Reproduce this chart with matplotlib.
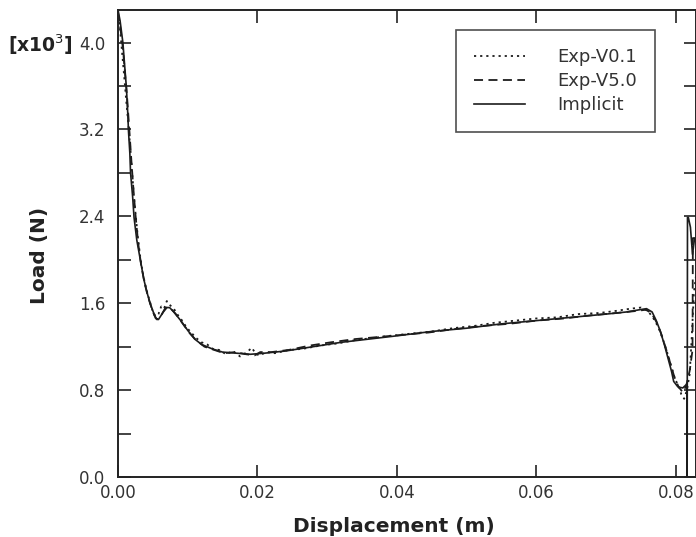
import matplotlib
matplotlib.use("Agg")
import matplotlib.pyplot as plt
from matplotlib import ticker

plt.rcParams["font.family"] = ["DejaVu Sans"]

# Implicit (solid)
x_imp = [0.0000, 0.0003, 0.0007, 0.0010, 0.0012, 0.0014, 0.0015, 0.0017, 0.0018, 0.0021,
         0.0023, 0.0027, 0.0032, 0.0037, 0.0042, 0.0046, 0.0050, 0.0054, 0.0058, 0.0063,
         0.0068, 0.0074, 0.0080, 0.0090, 0.0100, 0.0110, 0.0120, 0.0135, 0.0150, 0.0170,
         0.0190, 0.0210, 0.0240, 0.0280, 0.0320, 0.0360, 0.0400, 0.0450, 0.0500, 0.0550,
         0.0600, 0.0650, 0.0700, 0.0730, 0.0748, 0.0758, 0.0766, 0.0772, 0.0778, 0.0784,
         0.0789, 0.0794, 0.0797, 0.0803, 0.0810, 0.0815, 0.08160, 0.08163, 0.08168, 0.0818,
         0.0821, 0.0824, 0.0827, 0.0830]
y_imp = [4.30, 4.20, 4.00, 3.75, 3.59, 3.35, 3.19, 2.98, 2.80, 2.58,
         2.39, 2.18, 2.00, 1.82, 1.69, 1.60, 1.53, 1.46, 1.45, 1.50,
         1.56, 1.56, 1.52, 1.44, 1.35, 1.27, 1.22, 1.18, 1.15, 1.14,
         1.13, 1.14, 1.16, 1.20, 1.24, 1.27, 1.30, 1.34, 1.37, 1.41,
         1.44, 1.47, 1.50, 1.52, 1.54, 1.55, 1.52, 1.44, 1.34, 1.21,
         1.09, 0.97, 0.88, 0.83, 0.82, 0.85, 0.86, 0.00, 2.39, 2.39,
         2.30, 2.05, 2.20, 2.15]

# Exp-V5.0 (dashed)
x_v50 = [0.0000, 0.0003, 0.0007, 0.0010, 0.0013, 0.0016, 0.0019, 0.0022, 0.0025, 0.0029,
         0.0033, 0.0038, 0.0043, 0.0048, 0.0052, 0.0056, 0.0060, 0.0065, 0.0070, 0.0076,
         0.0083, 0.0092, 0.0102, 0.0112, 0.0124, 0.0138, 0.0152, 0.0168, 0.0184, 0.0196,
         0.0204, 0.0220, 0.0245, 0.0275, 0.0305, 0.0340, 0.0375, 0.0410, 0.0445, 0.0480,
         0.0520, 0.0560, 0.0600, 0.0640, 0.0680, 0.0715, 0.0745, 0.0757, 0.0765, 0.0772,
         0.0779, 0.0786, 0.0792, 0.0798, 0.0804, 0.0810, 0.0815, 0.0820, 0.0824, 0.08245,
         0.0830]
y_v50 = [4.28, 4.15, 3.95, 3.72, 3.50, 3.22, 2.93, 2.66, 2.42, 2.15,
         1.96, 1.79, 1.66, 1.56, 1.49, 1.45, 1.47, 1.52, 1.56, 1.55,
         1.50, 1.42, 1.33, 1.26, 1.20, 1.17, 1.14, 1.15, 1.13, 1.12,
         1.15, 1.15, 1.17, 1.21, 1.24, 1.27, 1.29, 1.31, 1.33, 1.36,
         1.39, 1.41, 1.44, 1.46, 1.49, 1.51, 1.53, 1.54, 1.51, 1.43,
         1.32, 1.18, 1.05, 0.92, 0.83, 0.78, 0.84, 0.98, 1.17, 2.20,
         2.20]

# Exp-V0.1 (dotted)
x_v01 = [0.0000, 0.0003, 0.0006, 0.0009, 0.0012, 0.0015, 0.0018, 0.0021, 0.0024, 0.0028,
         0.0032, 0.0036, 0.0041, 0.0046, 0.0050, 0.0054, 0.0058, 0.0062, 0.0066, 0.0070,
         0.0075, 0.0080, 0.0086, 0.0092, 0.0098, 0.0105, 0.0112, 0.0120, 0.0128, 0.0136,
         0.0145, 0.0155, 0.0165, 0.0175, 0.0185, 0.0192, 0.0198, 0.0204, 0.0212, 0.0225,
         0.0245, 0.0265, 0.0290, 0.0315, 0.0340, 0.0365, 0.0390, 0.0420, 0.0450, 0.0480,
         0.0510, 0.0540, 0.0570, 0.0600, 0.0630, 0.0660, 0.0690, 0.0715, 0.0735, 0.0750,
         0.0760, 0.0768, 0.0775, 0.0782, 0.0788, 0.0794, 0.0799, 0.0804, 0.0808, 0.0812,
         0.0816, 0.0820, 0.0823, 0.0826, 0.0830]
y_v01 = [4.30, 4.12, 3.90, 3.68, 3.45, 3.24, 3.00, 2.74, 2.50, 2.24,
         2.02, 1.86, 1.72, 1.61, 1.52, 1.48, 1.50, 1.57, 1.55, 1.62,
         1.58, 1.55, 1.49, 1.44, 1.38, 1.33, 1.28, 1.24, 1.22, 1.18,
         1.17, 1.13, 1.16, 1.11, 1.15, 1.19, 1.13, 1.12, 1.15, 1.14,
         1.17, 1.18, 1.21, 1.23, 1.26, 1.28, 1.30, 1.32, 1.34, 1.37,
         1.39, 1.42, 1.44, 1.46, 1.47, 1.50, 1.51, 1.53, 1.55, 1.56,
         1.53, 1.46, 1.38, 1.26, 1.14, 1.01, 0.90, 0.84, 0.76, 0.72,
         0.80, 0.95, 1.30, 1.70, 1.90]

LINE_COLOR = "#1c1c1c"

fig = plt.figure(figsize=(6.96, 5.37), dpi=100)
ax = fig.add_axes([118 / 696, 60 / 537, 578 / 696, 467 / 537])

ax.plot(x_v01, y_v01, color=LINE_COLOR, lw=1.3, ls=(0, (1.2, 2.2)), label="Exp-V0.1")
ax.plot(x_v50, y_v50, color=LINE_COLOR, lw=1.3, ls=(0, (5, 3)), label="Exp-V5.0")
ax.plot(x_imp, y_imp, color=LINE_COLOR, lw=1.2, ls="-", label="Implicit")

ax.set_xlim(0, 0.0829)
ax.set_ylim(0, 4.3)

ax.xaxis.set_major_locator(ticker.MultipleLocator(0.02))
ax.xaxis.set_major_formatter(ticker.FormatStrFormatter("%.2f"))
ax.yaxis.set_major_locator(ticker.MultipleLocator(0.8))
ax.yaxis.set_minor_locator(ticker.MultipleLocator(0.4))
ax.yaxis.set_major_formatter(ticker.FormatStrFormatter("%.1f"))

ax.tick_params(which="both", direction="in", top=True, right=True,
               length=9, width=1.2, color="#222222", labelcolor="#333333",
               labelsize=12)
ax.tick_params(axis="x", pad=5)
ax.tick_params(axis="y", pad=9)
for sp in ax.spines.values():
    sp.set_linewidth(1.4)
    sp.set_color("#222222")

ax.set_xlabel("Displacement (m)", fontsize=14.5, fontweight="bold", color="#222222")
ax.xaxis.set_label_coords(0.478, -0.085)
ax.set_ylabel("Load (N)", fontsize=14.5, fontweight="bold", color="#222222")
ax.yaxis.set_label_coords(-0.12, 0.475)

fig.text(40 / 696, 1 - 45 / 537, r"[x10$^3$]", fontsize=13.5, fontweight="bold",
         color="#222222", ha="center", va="center")

leg = ax.legend(loc="upper left", bbox_to_anchor=((456 - 118) / 578, 1 - 20 / 467),
                fontsize=13, frameon=True, fancybox=False, handlelength=2.8,
                handletextpad=1.8, labelspacing=0.33, borderpad=1.0,
                borderaxespad=0)
leg.get_frame().set_edgecolor("#222222")
leg.get_frame().set_linewidth(1.2)
for t in leg.get_texts():
    t.set_color("#333333")

fig.savefig("out.png", dpi=100)
